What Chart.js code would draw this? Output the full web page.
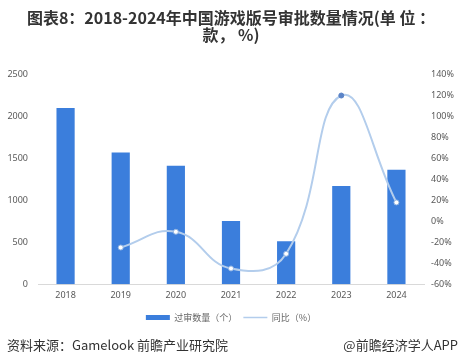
<!DOCTYPE html>
<html>
<head>
<meta charset="utf-8">
<script src="https://cdn.jsdelivr.net/npm/chart.js@4"></script>
<style>
  body { margin: 0; background: #fff; }
  #wrap { position: relative; width: 461px; height: 364px; }
  #foot { position: absolute; left: 7px; right: 3px; top: 335px; font: 13px "Noto Sans CJK SC", sans-serif; color: #333; }
  #foot .r { position: absolute; right: 0; top: 0; }
</style>
</head>
<body>
<div id="wrap">
  <canvas id="chart" width="461" height="364"></canvas>
  <div id="foot"><span>资料来源：Gamelook 前瞻产业研究院</span><span class="r">@前瞻经济学人APP</span></div>
</div>
<script>
// values
const years = ["2018", "2019", "2020", "2021", "2022", "2023", "2024"];
const approved = [2100, 1570, 1413, 755, 512, 1170, 1365];
const yoy = [null, -25, -10, -45, -31, 120, 18];

const barColor = "#3b7edc";
const lineColor = "#b3cdec";
const tickFont = { family: "'Noto Sans'", size: 9 };

const ctx = document.getElementById("chart").getContext("2d");
const myChart = new Chart(ctx, {
  type: "bar",
  data: {
    labels: years,
    datasets: [
      {
        label: "过审数量（个）",
        data: approved,
        backgroundColor: barColor,
        barPercentage: 0.33,
        categoryPercentage: 1,
        yAxisID: "y",
        order: 2,
      },
      {
        type: "line",
        label: "同比（%）",
        data: yoy,
        borderColor: lineColor,
        backgroundColor: lineColor,
        borderWidth: 2,
        tension: 0.45,
        pointRadius: 2.5,
        pointBorderWidth: 1,
        pointBorderColor: years.map((y) => (y === "2023" ? "#5b84c8" : "#8fb3e2")),
        pointBackgroundColor: years.map((y) => (y === "2023" ? "#5b84c8" : "#ffffff")),
        yAxisID: "y1",
        order: 1,
      },
    ],
  },
  options: {
    responsive: false,
    animation: false,
    layout: { padding: { left: 6, right: 5, bottom: 32 } },
    plugins: {
      title: {
        display: true,
        text: ["图表8：2018-2024年中国游戏版号审批数量情况(单 位 ：", "款， %)"],
        color: "#333",
        font: { family: "'Noto Sans CJK SC'", size: 16, weight: "bold", lineHeight: 1.08 },
        padding: { top: 9, bottom: 31 },
      },
      legend: {
        position: "bottom",
        labels: {
          usePointStyle: true,
          pointStyleWidth: 24,
          boxHeight: 5,
          color: "#666",
          padding: 6,
          font: { family: "'Noto Sans CJK SC'", size: 9 },
          sort: (a, b) => a.datasetIndex - b.datasetIndex,
          generateLabels: (chart) => {
            const items = Chart.defaults.plugins.legend.labels.generateLabels(chart);
            items.forEach((it) => {
              if (it.datasetIndex === 0) {
                it.pointStyle = "rect";
                it.lineWidth = 0;
              } else {
                it.pointStyle = "line";
                it.lineWidth = 1.5;
                it.strokeStyle = lineColor;
              }
            });
            return items;
          },
        },
      },
      tooltip: { enabled: false },
    },
    scales: {
      x: {
        grid: { display: false, drawTicks: false },
        border: { color: "#d9d9d9" },
        ticks: { color: "#595959", padding: 6, font: tickFont },
      },
      y: {
        position: "left",
        min: 0,
        max: 2500,
        grid: { display: false, drawTicks: false },
        border: { display: false },
        afterFit: (scale) => { scale.width = 32; },
        ticks: { stepSize: 500, color: "#595959", padding: 10, font: tickFont, callback: (v) => String(v) },
      },
      y1: {
        position: "right",
        min: -60,
        max: 140,
        grid: { display: false, drawTicks: false },
        border: { display: false },
        afterFit: (scale) => { scale.width = 32; },
        ticks: {
          stepSize: 20,
          color: "#595959",
          padding: 7,
          font: tickFont,
          callback: (v) => v + "%",
        },
      },
    },
  },
});
</script>
</body>
</html>
